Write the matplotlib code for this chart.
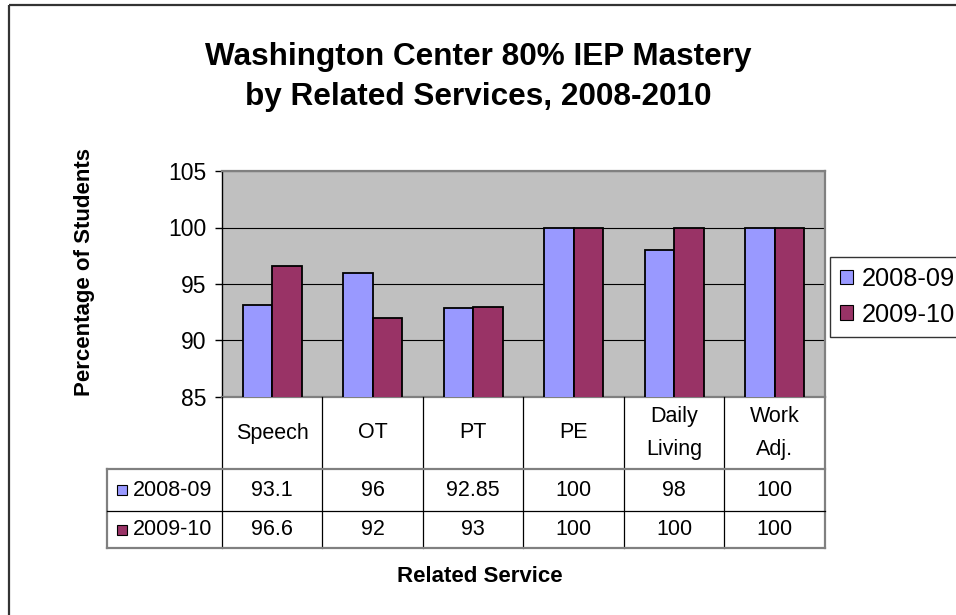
import numpy as np
import matplotlib
matplotlib.use("Agg")
import matplotlib.pyplot as plt
from matplotlib.patches import Rectangle, Patch

plt.rcParams["font.family"] = ["Liberation Sans", "DejaVu Sans"]

# ---- data -----------------------------------------------------------------
categories = ["Speech", "OT", "PT", "PE", "Daily\nLiving", "Work\nAdj."]
series_names = ["2008-09", "2009-10"]
vals_0809 = [93.1, 96, 92.85, 100, 98, 100]
vals_0910 = [96.6, 92, 93, 100, 100, 100]
table_0809 = ["93.1", "96", "92.85", "100", "98", "100"]
table_0910 = ["96.6", "92", "93", "100", "100", "100"]
yticks = [85, 90, 95, 100, 105]

BLUE = "#9999FF"
PLUM = "#993366"
PLOT_BG = "#C0C0C0"
GREY = "#808080"

W, H = 956, 615
fig = plt.figure(figsize=(W / 100, H / 100), dpi=100)

# plot area in pixels
PL, PR, PT, PB = 222, 825, 171, 397
ax = fig.add_axes([PL / W, 1 - PB / H, (PR - PL) / W, (PB - PT) / H])
ax.set_facecolor(PLOT_BG)

n = len(categories)
x = np.arange(n)
bw = 0.295
ax.bar(x - bw / 2, vals_0809, bw, color=BLUE, edgecolor="black", lw=1.3, zorder=3)
ax.bar(x + bw / 2, vals_0910, bw, color=PLUM, edgecolor="black", lw=1.3, zorder=3)
ax.set_xlim(-0.5, n - 0.5)
ax.set_ylim(85, 105)
ax.set_yticks(yticks)
ax.set_yticklabels([str(t) for t in yticks], fontsize=16.5)
ax.set_xticks([])
ax.tick_params(axis="y", length=5, width=1, color="black", pad=6)
ax.yaxis.grid(True, color="black", lw=0.8, zorder=1)
for s in ["top", "right", "bottom"]:
    ax.spines[s].set_color(GREY)
    ax.spines[s].set_linewidth(1.6)
ax.spines["left"].set_color("black")
ax.spines["left"].set_linewidth(1.0)

# overlay in pixel coords for table, frame and texts
ov = fig.add_axes([0, 0, 1, 1], zorder=5)
ov.set_xlim(0, W)
ov.set_ylim(H, 0)
ov.axis("off")
ov.patch.set_alpha(0)

# outer chart border (cropped at right/bottom)
ov.plot([9.5, W + 5], [5, 5], color="#333333", lw=1.6, solid_capstyle="butt")
ov.plot([9.5, 9.5], [5, H + 5], color="#333333", lw=1.6, solid_capstyle="butt")

# data table
TL = 107
R1, R2, R3 = 469, 511, 548
colw = (PR - PL) / n
for i in range(1, n):
    xc = PL + i * colw
    ov.plot([xc, xc], [PB, R3], color="black", lw=0.9)
ov.plot([PL, PL], [PB, R3], color="black", lw=0.9)
ov.plot([PR, PR], [PB, R3], color=GREY, lw=1.6)
ov.plot([TL, TL], [R1, R3], color=GREY, lw=1.6)
ov.plot([TL, PR], [R1, R1], color=GREY, lw=1.6)
ov.plot([TL, PR], [R2, R2], color="black", lw=0.9)
ov.plot([TL, PR], [R3, R3], color=GREY, lw=1.6)

for i, cat in enumerate(categories):
    xc = PL + (i + 0.5) * colw
    ov.text(xc, (PB + R1) / 2, cat, ha="center", va="center", fontsize=15.5,
            linespacing=1.75)
    ov.text(xc, (R1 + R2) / 2, table_0809[i], ha="center", va="center", fontsize=15.5)
    ov.text(xc, (R2 + R3) / 2, table_0910[i], ha="center", va="center", fontsize=15.5)

for (ya, yb), name, col in [((R1, R2), series_names[0], BLUE),
                            ((R2, R3), series_names[1], PLUM)]:
    ym = (ya + yb) / 2
    ov.add_patch(Rectangle((117, ym - 5), 10, 10, facecolor=col,
                           edgecolor="black", lw=0.8))
    ov.text(133, ym, name, ha="left", va="center", fontsize=15.5)

# titles
ov.text(478, 57, "Washington Center 80% IEP Mastery", ha="center", va="center",
        fontsize=22.7, fontweight="bold")
ov.text(478, 97, "by Related Services, 2008-2010", ha="center", va="center",
        fontsize=22.7, fontweight="bold")
ov.text(85, 272, "Percentage of Students", ha="center", va="center",
        rotation=90, fontsize=16, fontweight="bold")
ov.text(480, 577, "Related Service", ha="center", va="center",
        fontsize=16, fontweight="bold")

# legend
handles = [Patch(facecolor=BLUE, edgecolor="black", lw=0.8, label=series_names[0]),
           Patch(facecolor=PLUM, edgecolor="black", lw=0.8, label=series_names[1])]
fig.legend(handles=handles, loc="upper left",
           bbox_to_anchor=(830 / W, 1 - 257 / H),
           fontsize=18.3, frameon=True, fancybox=False, edgecolor="black",
           handlelength=0.5, handleheight=0.5, handletextpad=0.35,
           borderpad=0.4, labelspacing=0.45, borderaxespad=0)

fig.savefig("out.png", dpi=100, facecolor="white")
